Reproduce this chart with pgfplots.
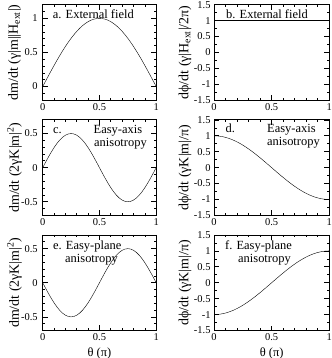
\documentclass[border=0pt]{standalone}
\usepackage{fontspec}
\setmainfont{Liberation Serif}
\usepackage{pgfplots}
\usepackage{pgfplotstable}
\pgfplotsset{compat=1.18}

% theta in units of pi; a = dm/dt (field), c = easy-axis, d = dphi/dt easy-axis,
% e = easy-plane, f = dphi/dt easy-plane
\pgfplotstableread{
theta  a       c        d        e        f
0      0       0        1        0        -1
0.025  0.0785  0.0782   0.9969   -0.0782  -0.9969
0.05   0.1564  0.1545   0.9877   -0.1545  -0.9877
0.075  0.2334  0.2270   0.9724   -0.2270  -0.9724
0.1    0.3090  0.2939   0.9511   -0.2939  -0.9511
0.125  0.3827  0.3536   0.9239   -0.3536  -0.9239
0.15   0.4540  0.4045   0.8910   -0.4045  -0.8910
0.175  0.5225  0.4455   0.8526   -0.4455  -0.8526
0.2    0.5878  0.4755   0.8090   -0.4755  -0.8090
0.225  0.6494  0.4938   0.7604   -0.4938  -0.7604
0.25   0.7071  0.5      0.7071   -0.5     -0.7071
0.275  0.7604  0.4938   0.6494   -0.4938  -0.6494
0.3    0.8090  0.4755   0.5878   -0.4755  -0.5878
0.325  0.8526  0.4455   0.5225   -0.4455  -0.5225
0.35   0.8910  0.4045   0.4540   -0.4045  -0.4540
0.375  0.9239  0.3536   0.3827   -0.3536  -0.3827
0.4    0.9511  0.2939   0.3090   -0.2939  -0.3090
0.425  0.9724  0.2270   0.2334   -0.2270  -0.2334
0.45   0.9877  0.1545   0.1564   -0.1545  -0.1564
0.475  0.9969  0.0782   0.0785   -0.0782  -0.0785
0.5    1       0        0        0        0
0.525  0.9969  -0.0782  -0.0785  0.0782   0.0785
0.55   0.9877  -0.1545  -0.1564  0.1545   0.1564
0.575  0.9724  -0.2270  -0.2334  0.2270   0.2334
0.6    0.9511  -0.2939  -0.3090  0.2939   0.3090
0.625  0.9239  -0.3536  -0.3827  0.3536   0.3827
0.65   0.8910  -0.4045  -0.4540  0.4045   0.4540
0.675  0.8526  -0.4455  -0.5225  0.4455   0.5225
0.7    0.8090  -0.4755  -0.5878  0.4755   0.5878
0.725  0.7604  -0.4938  -0.6494  0.4938   0.6494
0.75   0.7071  -0.5     -0.7071  0.5      0.7071
0.775  0.6494  -0.4938  -0.7604  0.4938   0.7604
0.8    0.5878  -0.4755  -0.8090  0.4755   0.8090
0.825  0.5225  -0.4455  -0.8526  0.4455   0.8526
0.85   0.4540  -0.4045  -0.8910  0.4045   0.8910
0.875  0.3827  -0.3536  -0.9239  0.3536   0.9239
0.9    0.3090  -0.2939  -0.9511  0.2939   0.9511
0.925  0.2334  -0.2270  -0.9724  0.2270   0.9724
0.95   0.1564  -0.1545  -0.9877  0.1545   0.9877
0.975  0.0785  -0.0782  -0.9969  0.0782   0.9969
1      0       0        -1       0        1
}\curves

\pgfplotsset{
  grpanel/.style={
    scale only axis, height=95.5bp,
    xmin=0, xmax=1,
    xtick={0,0.5,1},
    minor xtick={0.1,0.2,0.3,0.4,0.6,0.7,0.8,0.9},
    tick align=inside,
    axis line style={line width=0.9bp},
    every tick/.style={black, line width=0.7bp},
    major tick length=5bp, minor tick length=2.5bp,
    tick label style={font=\fontsize{10.5}{12}\selectfont},
    label style={font=\fontsize{12.5}{14}\selectfont},
    /pgf/number format/assume math mode=true,
    cycle list={{black, line width=0.8bp, mark=none}},
  },
  leftcol/.style={grpanel, width=113.5bp,
    yticklabel style={xshift=-1.5bp},
    every axis y label/.style={at={(axis description cs:0,0.5)}, xshift=-28.2bp, rotate=90, anchor=center, font=\fontsize{14}{16}\selectfont}},
  rightcol/.style={grpanel, width=115.3bp,
    ymin=-1.5, ymax=1.5, ytick={-1.5,-1,-0.5,0,0.5,1,1.5},
    minor ytick={-1.25,-0.75,-0.25,0.25,0.75,1.25},
    every axis y label/.style={at={(axis description cs:0,0.5)}, xshift=-29bp, rotate=90, anchor=center, font=\fontsize{14}{16}\selectfont}},
}
\tikzset{annot/.style={anchor=base west, inner sep=0pt, font=\fontsize{12.5}{14}\selectfont}}

\begin{document}
\begin{tikzpicture}
\useasboundingbox (0,0) rectangle (332bp,358bp);

% row 1
\begin{axis}[leftcol, at={(42.7bp,257.8bp)}, anchor=south west,
  ymin=-0.2, ymax=1.2, ytick={0,0.5,1},
  minor ytick={-0.1,0.1,0.2,0.3,0.4,0.6,0.7,0.8,0.9,1.1},
  ylabel={dm/dt (γ|m||H\textsubscript{ext}|)}]
\addplot table[x=theta, y=a] {\curves};
\end{axis}
\begin{axis}[rightcol, at={(214bp,257.8bp)}, anchor=south west,
  ylabel={dϕ/dt (γ|H\textsubscript{ext}|/2π)}]
\addplot coordinates {(0,1) (1,1)};
\end{axis}

% row 2
\begin{axis}[leftcol, at={(42.7bp,142.6bp)}, anchor=south west,
  ymin=-0.7, ymax=0.7, ytick={-0.5,0,0.5},
  minor ytick={-0.6,-0.4,-0.3,-0.2,-0.1,0.1,0.2,0.3,0.4,0.6},
  ylabel={dm/dt (2γK|m|\textsuperscript{2})}]
\addplot table[x=theta, y=c] {\curves};
\end{axis}
\begin{axis}[rightcol, at={(214bp,142.6bp)}, anchor=south west,
  ylabel={dϕ/dt (γK|m|/π)}]
\addplot table[x=theta, y=d] {\curves};
\end{axis}

% row 3
\begin{axis}[leftcol, at={(42.7bp,27.5bp)}, anchor=south west,
  ymin=-0.7, ymax=0.7, ytick={-0.5,0,0.5},
  minor ytick={-0.6,-0.4,-0.3,-0.2,-0.1,0.1,0.2,0.3,0.4,0.6},
  xlabel={θ (π)},
  ylabel={dm/dt (2γK|m|\textsuperscript{2})}]
\addplot table[x=theta, y=e] {\curves};
\end{axis}
\begin{axis}[rightcol, at={(214bp,27.5bp)}, anchor=south west,
  xlabel={θ (π)},
  ylabel={dϕ/dt (γK|m|/π)}]
\addplot table[x=theta, y=f] {\curves};
\end{axis}

% panel annotations
\node[annot] at (52.7bp,339bp) {a. External field};
\node[annot] at (226bp,339.5bp) {b. External field};
\node[annot] at (53bp,224.5bp) {c.};
\node[annot] at (93.5bp,224.5bp) {Easy-axis};
\node[annot] at (94bp,211.5bp) {anisotropy};
\node[annot] at (225.5bp,225.5bp) {d.};
\node[annot] at (267bp,225.5bp) {Easy-axis};
\node[annot] at (267bp,212.5bp) {anisotropy};
\node[annot] at (53bp,108bp) {e. Easy-plane};
\node[annot] at (65bp,95bp) {anisotropy};
\node[annot] at (225bp,108bp) {f. Easy-plane};
\node[annot] at (238bp,95bp) {anisotropy};
\end{tikzpicture}
\end{document}
